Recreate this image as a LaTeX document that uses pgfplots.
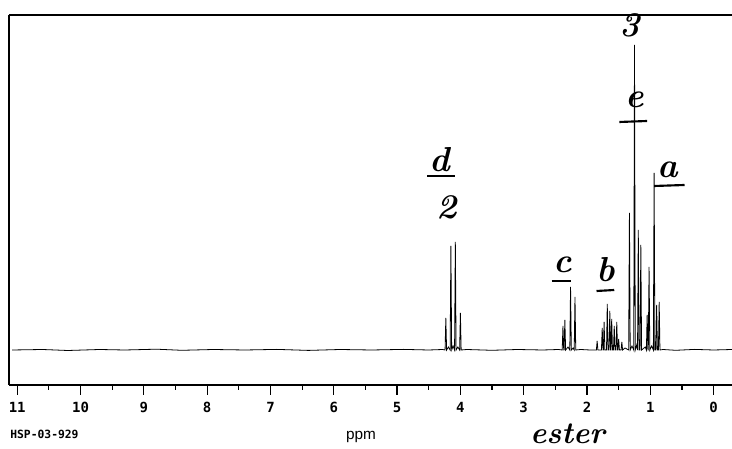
\documentclass[border=0pt]{standalone}
\usepackage{fontspec}
\usepackage{pgfplots}
\pgfplotsset{compat=1.18}
\newfontfamily\monofont{DejaVu Sans Mono}
\newfontfamily\labelfont{Liberation Sans}

\begin{document}
\begin{tikzpicture}
\begin{axis}[
    scale only axis,
    width=542.25pt, height=277.5pt,
    x dir=reverse,
    xmin=-0.29, xmax=11.13,
    ymin=-35, ymax=335,
    axis x line*=bottom,
    axis y line*=left,
    axis line style={-, line width=0.9pt},
    xtick={0,1,...,11},
    minor x tick num=1,
    ytick=\empty,
    tick align=outside,
    major tick length=7.5pt,
    minor tick length=3.75pt,
    every tick/.style={black, line width=0.9pt},
    /pgf/number format/assume math mode=true,
    xticklabel style={font=\monofont\bfseries\fontsize{10.5}{10.5}\selectfont, yshift=-2pt},
    clip=false,
]
% 1H spectrum, heights in baseline units
\addplot[black, line width=0.6pt] coordinates {
    (11.08,0) (10.6,0.5) (10.2,-0.5) (9.7,0.5) (9.3,0) (8.8,0.8) (8.4,-0.3)
    (7.9,0.5) (7.4,0) (6.9,0.6) (6.4,-0.4) (5.9,0.5) (5.4,0) (4.9,0.6) (4.5,0)
    (4.28,0.5)
    (4.242,0) (4.23,32) (4.218,0) (4.19,3)
    (4.162,0) (4.15,104) (4.138,0) (4.115,4)
    (4.092,0) (4.08,108) (4.068,0) (4.04,3)
    (4.012,0) (4.00,37) (3.988,0)
    (3.9,0.5) (3.5,-0.3) (3.1,0.5) (2.7,0) (2.45,0.5)
    (2.392,0) (2.38,24) (2.368,0)
    (2.362,0) (2.35,30) (2.338,0) (2.3,3)
    (2.272,0) (2.26,63) (2.248,0) (2.22,2)
    (2.202,0) (2.19,53) (2.178,0)
    (2.1,0.5) (1.95,0)
    (1.852,0) (1.84,9) (1.828,0)
    (1.772,0) (1.76,22) (1.748,0)
    (1.742,0) (1.73,28) (1.718,0)
    (1.692,0) (1.68,46) (1.668,0)
    (1.652,0) (1.64,39) (1.628,0)
    (1.622,0) (1.61,31) (1.598,0)
    (1.582,0) (1.57,24) (1.558,0)
    (1.542,0) (1.53,28) (1.518,0)
    (1.512,0) (1.50,11) (1.488,0)
    (1.462,0) (1.45,8) (1.438,0) (1.40,2)
    (1.342,0) (1.33,137) (1.318,0) (1.29,4)
    (1.262,0) (1.25,305) (1.238,0) (1.215,5)
    (1.202,0) (1.19,120) (1.178,0)
    (1.162,0) (1.15,105) (1.138,0) (1.08,3)
    (1.062,0) (1.05,35) (1.038,0)
    (1.032,0) (1.02,83) (1.008,0) (0.98,4)
    (0.952,0) (0.94,177) (0.928,0)
    (0.912,0) (0.90,45) (0.888,0)
    (0.872,0) (0.86,48) (0.848,0)
    (0.8,0.5) (0.6,-0.3) (0.3,0.6) (0.0,0) (-0.29,0.5)
};
\draw[line width=0.9pt] (rel axis cs:0,1) -- (rel axis cs:1,1);
% annotations
\begin{scope}[font=\fontsize{26}{26}\selectfont\bfseries\itshape]
\node at (axis cs:4.32,190) {d};
\node at (axis cs:4.22,143) {2};
\node at (axis cs:2.39,85) {c};
\node at (axis cs:1.70,80) {b};
\node at (axis cs:1.32,325) {3};
\node at (axis cs:1.25,250) {e};
\node at (axis cs:0.72,180) {a};
\end{scope}
\node[font=\fontsize{23}{23}\selectfont\bfseries\itshape] at (axis cs:2.31,-84) {ester};
\draw[line width=1.6pt] (axis cs:4.52,174) -- (axis cs:4.08,174);
\draw[line width=1.6pt] (axis cs:2.56,69) -- (axis cs:2.25,69);
\draw[line width=1.6pt] (axis cs:1.85,59) -- (axis cs:1.57,60);
\draw[line width=1.6pt] (axis cs:1.49,228) -- (axis cs:1.05,229);
\draw[line width=1.6pt] (axis cs:0.94,164) -- (axis cs:0.46,165);
\node[font=\labelfont\fontsize{11.5}{11.5}\selectfont] at (axis cs:5.57,-87) {ppm};
\node[font=\monofont\bfseries\fontsize{8.5}{8.5}\selectfont] at (axis cs:10.57,-84) {HSP-03-929};
\end{axis}
\pgfresetboundingbox
\path (-6.75pt,-48pt) rectangle (542.25pt,288.75pt);
\end{tikzpicture}
\end{document}
